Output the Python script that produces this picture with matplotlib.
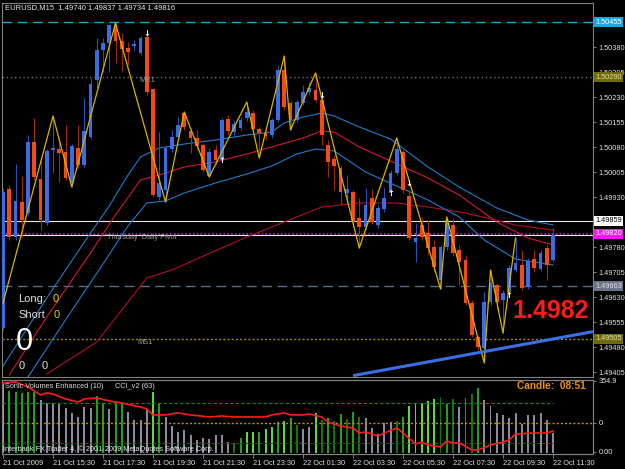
import matplotlib
matplotlib.use("Agg")
import matplotlib.pyplot as plt
import matplotlib.transforms as mtrans
import numpy as np

plt.rcParams['font.family'] = ['Liberation Sans', 'DejaVu Sans']

# ---------------- data ----------------
symbol = "EURUSD,M15"

opens = [1.49537, 1.49954, 1.49810, 1.49915, 1.49882, 1.50095, 1.49984, 1.49852, 1.50071, 1.50074,
         1.50065, 1.49972, 1.50077, 1.50026, 1.50110, 1.50281, 1.50371, 1.50392, 1.50446, 1.50398,
         1.50377, 1.50383, 1.50362, 1.50410, 1.50254, 1.49930, 1.49951, 1.50074, 1.50110, 1.50182,
         1.50128, 1.50107, 1.50086, 1.49993, 1.50071, 1.50041, 1.50164, 1.50125, 1.50137, 1.50167,
         1.50182, 1.50134, 1.50122, 1.50116, 1.50161, 1.50311, 1.50212, 1.50161, 1.50212, 1.50245,
         1.50251, 1.50221, 1.50086, 1.50044, 1.50017, 1.49942, 1.49945, 1.49867, 1.49840, 1.49927,
         1.49846, 1.49894, 1.49942, 1.50002, 1.50065, 1.49933, 1.49795, 1.49846, 1.49822, 1.49780,
         1.49681, 1.49780, 1.49846, 1.49771, 1.49741, 1.49612, 1.49510, 1.49477, 1.49615, 1.49666,
         1.49621, 1.49645, 1.49711, 1.49726, 1.49660, 1.49744, 1.49714, 1.49777, 1.49740]
highs = [1.49957, 1.49966, 1.50029, 1.49993, 1.50116, 1.50167, 1.50047, 1.50074, 1.50173, 1.50107,
         1.50146, 1.50089, 1.50146, 1.50227, 1.50287, 1.50407, 1.50407, 1.50449, 1.50452, 1.50422,
         1.50395, 1.50401, 1.50413, 1.50419, 1.50257, 1.50125, 1.50083, 1.50131, 1.50170, 1.50185,
         1.50137, 1.50131, 1.50092, 1.50077, 1.50086, 1.50167, 1.50176, 1.50161, 1.50170, 1.50215,
         1.50191, 1.50140, 1.50131, 1.50167, 1.50323, 1.50353, 1.50221, 1.50221, 1.50266, 1.50275,
         1.50302, 1.50236, 1.50101, 1.50056, 1.50026, 1.49996, 1.49951, 1.49927, 1.49957, 1.49954,
         1.49906, 1.49957, 1.50011, 1.50107, 1.50071, 1.49951, 1.49852, 1.49870, 1.49861, 1.49801,
         1.49786, 1.49870, 1.49867, 1.49786, 1.49756, 1.49621, 1.49516, 1.49645, 1.49711, 1.49672,
         1.49651, 1.49726, 1.49807, 1.49771, 1.49747, 1.49771, 1.49771, 1.49786, 1.49837]
lows = [1.49531, 1.49801, 1.49801, 1.49810, 1.49876, 1.49981, 1.49831, 1.49846, 1.50002, 1.49975,
        1.49981, 1.49960, 1.50017, 1.50020, 1.50104, 1.50257, 1.50305, 1.50305, 1.50332, 1.50305,
        1.50326, 1.50371, 1.50356, 1.50236, 1.49930, 1.49921, 1.49915, 1.50065, 1.50101, 1.50131,
        1.50062, 1.50071, 1.50005, 1.49990, 1.50026, 1.50035, 1.50116, 1.50116, 1.50131, 1.50158,
        1.50128, 1.50047, 1.50101, 1.50107, 1.50155, 1.50191, 1.50131, 1.50155, 1.50206, 1.50236,
        1.50215, 1.50086, 1.49990, 1.49951, 1.49906, 1.49912, 1.49840, 1.49777, 1.49831, 1.49849,
        1.49837, 1.49885, 1.49936, 1.49996, 1.49942, 1.49801, 1.49735, 1.49801, 1.49756, 1.49705,
        1.49654, 1.49771, 1.49753, 1.49666, 1.49606, 1.49510, 1.49471, 1.49432, 1.49606, 1.49591,
        1.49522, 1.49636, 1.49705, 1.49651, 1.49654, 1.49705, 1.49708, 1.49681, 1.49734]
closes = [1.49945, 1.49810, 1.49918, 1.49861, 1.50095, 1.49990, 1.49861, 1.50068, 1.50077, 1.50062,
          1.49987, 1.50083, 1.50026, 1.50128, 1.50269, 1.50371, 1.50392, 1.50446, 1.50398, 1.50374,
          1.50365, 1.50389, 1.50407, 1.50245, 1.49936, 1.49972, 1.50077, 1.50110, 1.50146, 1.50140,
          1.50107, 1.50083, 1.50011, 1.50065, 1.50041, 1.50161, 1.50128, 1.50149, 1.50161, 1.50185,
          1.50134, 1.50122, 1.50113, 1.50161, 1.50311, 1.50200, 1.50161, 1.50215, 1.50245, 1.50257,
          1.50221, 1.50116, 1.50035, 1.50023, 1.49945, 1.49954, 1.49855, 1.49840, 1.49906, 1.49855,
          1.49897, 1.49927, 1.50002, 1.50074, 1.49951, 1.49807, 1.49807, 1.49810, 1.49777, 1.49720,
          1.49780, 1.49861, 1.49762, 1.49735, 1.49612, 1.49516, 1.49480, 1.49615, 1.49672, 1.49615,
          1.49642, 1.49717, 1.49732, 1.49657, 1.49738, 1.49717, 1.49762, 1.49726, 1.49816]

zz_bars = [0, 8, 11, 18, 26, 29, 33, 39, 41, 45, 46, 50, 57, 63, 70, 71, 77, 78, 80, 82]
zz_prices = [1.49612, 1.50173, 1.49960, 1.50452, 1.49915, 1.50185, 1.49990, 1.50215, 1.50047, 1.50353,
             1.50131, 1.50302, 1.49777, 1.50107, 1.49654, 1.49870, 1.49432, 1.49711, 1.49522, 1.49807]

ma_upper_bars = [0, 7, 14, 17, 20, 22, 25, 29, 34, 39, 43, 45, 48, 51, 53, 57, 62, 68, 73, 79, 84, 88]
ma_upper = [1.49423, 1.49627, 1.49822, 1.49903, 1.49996, 1.50050, 1.50077, 1.50089, 1.50101, 1.50116, 1.50125,
            1.50152, 1.50170, 1.50182, 1.50173, 1.50140, 1.50104, 1.50020, 1.49960, 1.49897, 1.49861, 1.49846]
ma_mid_bars = [1, 7, 14, 18, 22, 25, 29, 34, 39, 43, 48, 51, 53, 57, 62, 68, 73, 79, 84, 88]
ma_mid = [1.49396, 1.49570, 1.49762, 1.49876, 1.49981, 1.49996, 1.50020, 1.50035, 1.50059, 1.50080,
          1.50107, 1.50128, 1.50125, 1.50080, 1.50038, 1.49987, 1.49936, 1.49855, 1.49807, 1.49786]
ma_lower_bars = [4, 10, 16, 20, 23, 26, 29, 34, 39, 43, 47, 50, 53, 58, 63, 68, 73, 77, 82, 88]
ma_lower = [1.49390, 1.49561, 1.49729, 1.49843, 1.49912, 1.49918, 1.49942, 1.49972, 1.49999, 1.50023,
            1.50059, 1.50074, 1.50068, 1.50005, 1.49963, 1.49921, 1.49870, 1.49801, 1.49744, 1.49726]
ma_slow_bars = [7, 15, 23, 27, 31, 39, 45, 51, 57, 63, 68, 74, 82, 88]
ma_slow = [1.49399, 1.49495, 1.49687, 1.49711, 1.49744, 1.49810, 1.49855, 1.49900, 1.49912, 1.49912,
           1.49900, 1.49882, 1.49846, 1.49831]

down_arrow_bars = [23, 51, 65]
down_arrow_prices = [1.50422, 1.50236, 1.49972]
up_arrow_bars = [35, 62, 81]
up_arrow_prices = [1.50041, 1.49942, 1.49636]

trend_bars = [56, 88]
trend_prices = [1.49394, 1.49504]

level_r1 = 1.50455
level_mr1 = 1.50290
level_upper = 1.49859
level_pivot = 1.49820
level_mid = 1.49663
level_ms1 = 1.49505

price_ticks = [1.49405, 1.49480, 1.49555, 1.49630, 1.49705, 1.49780, 1.49855, 1.49930,
               1.50005, 1.50080, 1.50155, 1.50230, 1.50305, 1.50380, 1.50455]
hidden_tick_labels = [1.49855, 1.50455]   # fully covered by level boxes in the chart

volumes = [350, 310, 305, 300, 305, 305, 265, 250, 250, 250, 225, 200, 180, 230, 225, 285, 250, 220,
           255, 250, 205, 165, 165, 220, 305, 250, 180, 135, 105, 115, 90, 65, 75, 70, 90, 90, 55, 50,
           75, 105, 105, 105, 120, 130, 155, 160, 175, 140, 120, 130, 200, 165, 175, 160, 195, 170, 205,
           180, 175, 125, 95, 150, 155, 160, 180, 235, 250, 250, 260, 270, 280, 245, 270, 230, 275, 295,
           325, 265, 235, 200, 190, 175, 200, 145, 190, 190, 200, 165, 100]
volume_kind = "lggggg" "sssssssss" "ggsgg" "ssss" "lg" "sssssssssss" "dgllgllglgd" "ss" "ldgdgdgd" \
              "sssss" "dg" "lllll" "dgdsgdg" "ssssssssssss"

cci_bars = [0, 2, 4, 6, 7, 8, 10, 12, 13, 15, 17, 19, 22, 23, 24, 26, 28, 30, 33, 35, 37, 39, 42, 43,
            45, 46, 48, 49, 51, 52, 54, 56, 57, 58, 60, 61, 63, 64, 66, 67, 68, 70, 71, 72, 73, 75, 76,
            78, 80, 81, 82, 85, 87, 88]
cci = [338, 346, 304, 237, 254, 245, 203, 177, 203, 211, 186, 169, 135, 118, 68, 68, 85, 68, 51, 59, 51,
       51, 51, 68, 85, 68, 68, 76, 51, 8, -25, -42, -85, -76, -110, -85, -42, -85, -177, -161, -186,
       -203, -152, -169, -169, -228, -228, -186, -161, -144, -93, -85, -85, -68]
cci_levels = [165, 0, -165]
cci_max_label = "354.9"

time_label_bars = [0, 8, 16, 24, 32, 40, 48, 56, 64, 72, 80, 88]
time_labels = ["21 Oct 2009", "21 Oct 15:30", "21 Oct 17:30", "21 Oct 19:30", "21 Oct 21:30",
               "21 Oct 23:30", "22 Oct 01:30", "22 Oct 03:30", "22 Oct 05:30", "22 Oct 07:30",
               "22 Oct 09:30", "22 Oct 11:30"]

big_price_text = "1.4982"
candle_timer = "08:51"
long_count, short_count = 0, 0

# ---------------- figure ----------------
W, H = 625, 469
fig = plt.figure(figsize=(W / 100, H / 100), dpi=100, facecolor='black')


def rect(l, t, r, b):
    return [l / W, 1 - b / H, (r - l) / W, (b - t) / H]


def ftext(px, py, s, **kw):
    kw.setdefault('va', 'center')
    return fig.text(px / W, 1 - py / H, s, **kw)


GRAY = '#808080'
ax = fig.add_axes(rect(2, 3, 593, 377), facecolor='black')
axi = fig.add_axes(rect(2, 380, 593, 454), facecolor='black')

n = len(opens)
x = np.arange(n)
o, h, l, c = map(np.array, (opens, highs, lows, closes))
xl = (-0.16, 94.4)
ax.set_xlim(*xl)
ax.set_ylim(1.49390, 1.50512)

# moving averages
ax.plot(ma_slow_bars, ma_slow, color='#B0102C', lw=0.8, zorder=2)
ax.plot(ma_mid_bars, ma_mid, color='#D0183C', lw=0.8, zorder=2)
ax.plot(ma_upper_bars, ma_upper, color='#1E7CC8', lw=0.8, zorder=2)
ax.plot(ma_lower_bars, ma_lower, color='#1E7CC8', lw=0.8, zorder=2)

# horizontal levels
ax.axhline(level_r1, color='#1AA4D8', lw=1.0, ls=(0, (7, 4)), zorder=1)
ax.axhline(level_mr1, color='#6E6E6E', lw=1.0, ls=(0, (1, 2)), zorder=1)
ax.axhline(level_upper, color='#E8E8E8', lw=0.8, zorder=1)
ax.axhline(closes[-1], color='#E8E8E8', lw=0.8, zorder=1)
ax.axhline(level_pivot, color='#C030D0', lw=1.1, ls=(0, (1, 1.5)), zorder=1)
ax.axhline(level_mid, color='#5A6C84', lw=1.0, ls=(0, (7, 4)), zorder=1)
ax.axhline(level_ms1, color='#9A8A10', lw=1.0, ls=(0, (1.5, 1.5)), zorder=1)

# trend line
slope = (trend_prices[1] - trend_prices[0]) / (trend_bars[1] - trend_bars[0])
ax.plot([trend_bars[0], xl[1]],
        [trend_prices[0], trend_prices[0] + slope * (xl[1] - trend_bars[0])],
        color='#3C6EE6', lw=2.2, zorder=6, solid_capstyle='butt')

# candles
up = c >= o
ax.vlines(x[up], l[up], h[up], color='#2A4FB8', lw=0.8, zorder=3)
ax.vlines(x[~up], l[~up], h[~up], color='#9A2A10', lw=0.8, zorder=3)
bb = np.minimum(o, c)
bh = np.maximum(np.abs(c - o), 0.000025)
ax.bar(x[up], bh[up], bottom=bb[up], width=0.58, color='#3A6CE4', lw=0, zorder=4)
ax.bar(x[~up], bh[~up], bottom=bb[~up], width=0.58, color='#F24A18', lw=0, zorder=4)

# zigzag
ax.plot(zz_bars, zz_prices, color='#D8B400', lw=0.9, zorder=5)

# arrows
for b, p in zip(down_arrow_bars, down_arrow_prices):
    ax.text(b, p, '↓', color='white', fontsize=6, fontweight='bold', ha='center', va='center',
            family='DejaVu Sans', zorder=7)
for b, p in zip(up_arrow_bars, up_arrow_prices):
    ax.text(b, p, '↑', color='white', fontsize=6, fontweight='bold', ha='center', va='center',
            family='DejaVu Sans', zorder=7)

# level names
ax.text(21.8, level_mr1, 'MR1', color='#9A9A9A', fontsize=5.3, va='top', zorder=6)
ax.text(16.6, level_pivot, 'Thursday  Daily Pivot', color='#9A9A9A', fontsize=5.3, va='top', zorder=6)
ax.text(21.5, level_ms1, 'MS1', color='#9A9A9A', fontsize=5.3, va='top', zorder=6)

# right price axis
ax.yaxis.tick_right()
ax.set_yticks(price_ticks)
ax.set_yticklabels(["" if p in hidden_tick_labels else f"{p:.5f}" for p in price_ticks])
ax.tick_params(axis='y', colors=GRAY, labelcolor='#E0E0E0', labelsize=5.3, length=2.5, width=0.7, pad=1.5)
ax.set_xticks([])
for sp in ax.spines.values():
    sp.set_color(GRAY)
    sp.set_linewidth(0.8)

bt = mtrans.blended_transform_factory(ax.transAxes, ax.transData)
boxes = [(level_r1, '#1AA8E0', 'white'), (level_mr1, '#6E6A10', '#E0E0A0'),
         (level_upper, 'white', 'black'), (level_pivot, '#FF10FF', 'white'),
         (level_mid, '#6A7488', '#E0E0E0'), (level_ms1, '#6E6A10', '#E0E0A0')]
for p, bg, fg in boxes:
    ax.text(1.0035, p, f"{p:.5f}", transform=bt, color=fg, fontsize=5.3, ha='left', va='center',
            zorder=10, bbox=dict(boxstyle='square,pad=0.2', fc=bg, ec='none'))

# ---------------- indicator panel ----------------
axi.set_xlim(*xl)
axi.set_ylim(-5, 365)
kind_colors = {'l': '#5ED83A', 'g': '#20A020', 'd': '#0E780E', 's': '#8A8C9E'}
axi.bar(x, volumes, width=0.32, color=[kind_colors[k] for k in volume_kind], lw=0, zorder=2)
axi.set_yticks([])
axi.set_xticks(time_label_bars)
axi.set_xticklabels(time_labels)
axi.tick_params(axis='x', colors=GRAY, labelcolor='#E0E0E0', labelsize=5.3, length=3, width=0.7, pad=1.5)
for lb in axi.get_xticklabels():
    lb.set_ha('left')

axc = axi.twinx()
axc.set_xlim(*xl)
axc.set_ylim(-262, 363)
axc.hlines(cci_levels[0], xl[0], time_label_bars[-1], color='#0C8C0C', lw=0.8, ls=(0, (3, 2)), zorder=1)
axc.axhline(cci_levels[1], color='#C89000', lw=1.0, ls=(0, (1.5, 1.5)), zorder=1)
axc.hlines(cci_levels[2], xl[0], time_label_bars[-1], color='#A01818', lw=0.7, ls=(0, (3, 2)), zorder=1)
axc.plot(cci_bars, cci, color='#FF1A1A', lw=1.2, zorder=5)
axc.set_yticks([354.9, 0, -245])
axc.set_yticklabels([cci_max_label, '0', '0.00'])
axc.tick_params(axis='y', colors=GRAY, labelcolor='#E0E0E0', labelsize=5.3, length=2.5, width=0.7, pad=1.5)
for a in (axi, axc):
    for sp in a.spines.values():
        sp.set_color(GRAY)
        sp.set_linewidth(0.8)

# ---------------- texts ----------------
ftext(5, 8, f"{symbol}  {opens[-1]:.5f} {highs[-1]:.5f} {lows[-1]:.5f} {closes[-1]:.5f}",
      color='#E8E8E8', fontsize=5.5)
ftext(18, 299, "Long:", color='#E0E0E0', fontsize=8)
ftext(53, 299, f"{long_count}", color='#E0D000', fontsize=8)
ftext(18, 315, "Short", color='#E0E0E0', fontsize=8)
ftext(54, 315, f"{short_count}", color='#E0D000', fontsize=8)
ftext(16, 342, f"{long_count + short_count}", color='white', fontsize=22)
ftext(19, 366, "0", color='#E0E0E0', fontsize=8)
ftext(42, 366, "0", color='#E0E0E0', fontsize=8)
ftext(512, 311, big_price_text, color='#FF1A1A', fontsize=18, fontweight='bold')
ftext(5, 386, "Sonic Volumes Enhanced (10)", color='#D8D8D8', fontsize=5.3)
ftext(115, 386, "CCI_v2 (63)", color='#D8D8D8', fontsize=5.3)
ftext(517, 386, f"Candle:  {candle_timer}", color='#F08C1A', fontsize=7.3, fontweight='bold')
ftext(3, 449, "Interbank FX Trader 4, © 2001-2009 MetaQuotes Software Corp.", color='#E8E8E8', fontsize=5.3)

fig.savefig("out.png", dpi=100, facecolor='black')
